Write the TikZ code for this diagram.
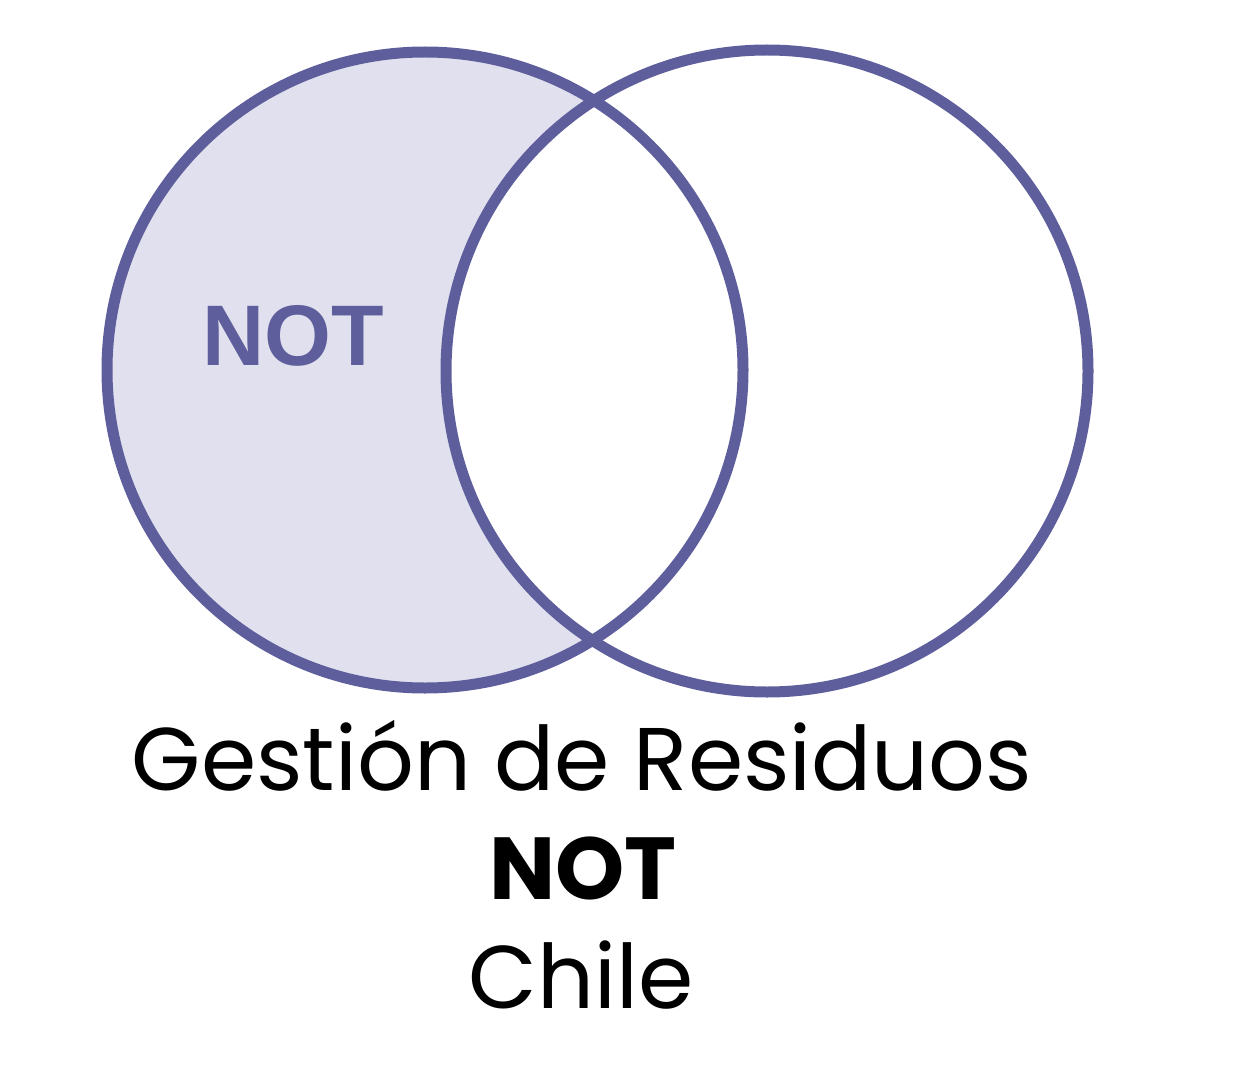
\documentclass[tikz,border=0pt]{standalone}
\usepackage{fontspec}
\setmainfont{Poppins}
\newfontfamily\notfont{Liberation Sans}
\definecolor{ringcol}{HTML}{5E5E9C}
\definecolor{lightcol}{HTML}{E0E0EE}
\begin{document}
\begin{tikzpicture}[x=1pt,y=-1pt,
  ringstyle/.style={draw=ringcol,line width=11pt},
  caption/.style={font=\fontsize{89}{89}\selectfont,anchor=base,inner sep=0pt}]
\useasboundingbox[fill=white] (0,0) rectangle (1237,1086);
% shaded left-only region
\begin{scope}
  \clip (425,370) circle[radius=318];
  \fill[lightcol] (425,370) circle[radius=318];
  \fill[white] (767,371) circle[radius=321];
\end{scope}
\node[ringstyle,circle,minimum size=636pt,inner sep=0pt] (A) at (425,370) {};
\node[ringstyle,circle,minimum size=642pt,inner sep=0pt] (B) at (767,371) {};
\node[text=ringcol,font=\notfont\bfseries\fontsize{86}{86}\selectfont,anchor=base,inner sep=0pt] (n) at (293,365) {NOT};
\node[caption] (t1) at (582,790) {Gestión de Residuos};
\node[caption,font=\bfseries\fontsize{88}{88}\selectfont] (t2) at (583,899) {NOT};
\node[caption] (t3) at (581,1008) {Chile};
\end{tikzpicture}
\end{document}
